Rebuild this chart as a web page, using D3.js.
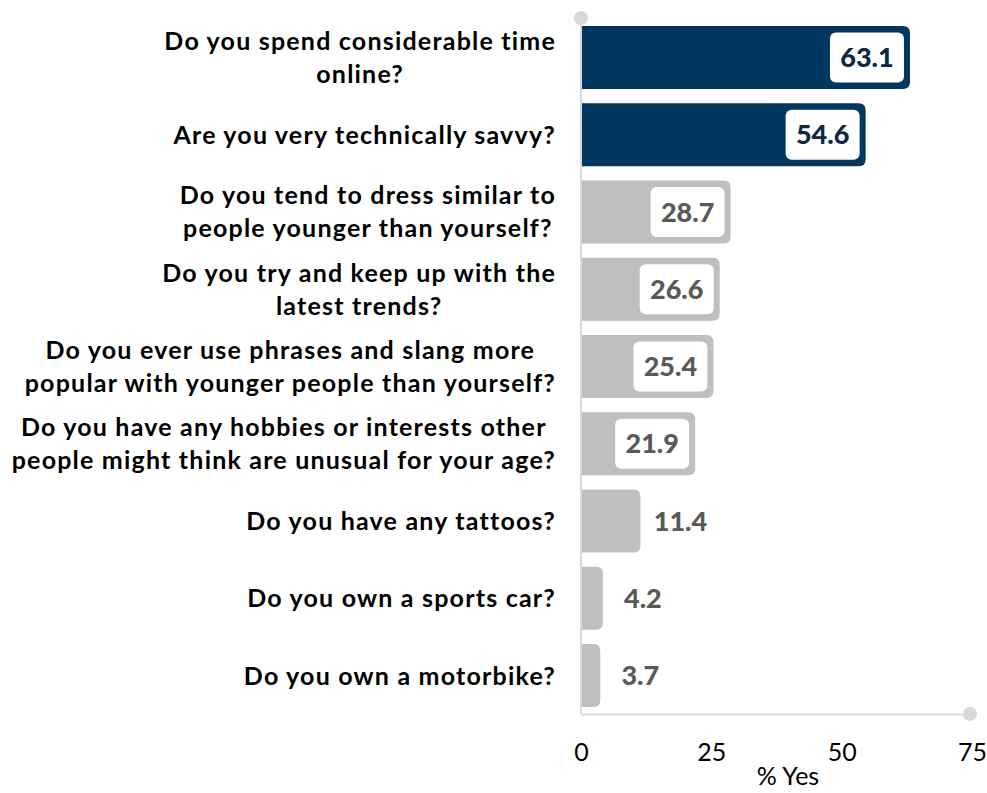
<!DOCTYPE html>
<html>
<head>
<meta charset="utf-8">
<script src="https://cdn.jsdelivr.net/npm/d3@7"></script>
<style>
  html, body { margin: 0; padding: 0; background: #ffffff; }
  svg { display: block; }
</style>
</head>
<body>
<script>
// Survey questions (each entry is the wrapped label lines)
const categories = [
  ["Do you spend considerable time", "online?"],
  ["Are you very technically savvy?"],
  ["Do you tend to dress similar to", "people younger than yourself?"],
  ["Do you try and keep up with the", "latest trends?"],
  ["Do you ever use phrases and slang more", "popular with younger people than yourself?"],
  ["Do you have any hobbies or interests other", "people might think are unusual for your age?"],
  ["Do you have any tattoos?"],
  ["Do you own a sports car?"],
  ["Do you own a motorbike?"]
];
const values = [63.1, 54.6, 28.7, 26.6, 25.4, 21.9, 11.4, 4.2, 3.7];
const highlighted = [true, true, false, false, false, false, false, false, false];
const xTicks = [0, 25, 50, 75];
const xTitle = "% Yes";

const W = 987, H = 793;
const NAVY = "#02375F", GREY = "#BFBFBF", AXIS = "#D9D9D9";
const TEXT_DARK = "#0E2841", TEXT_GREY = "#595959";
const FONT = "Lato, 'Open Sans', sans-serif";

const svg = d3.select("body").append("svg")
  .attr("width", W).attr("height", H);

const keys = categories.map((c, i) => i);
const x = d3.scaleLinear().domain([0, 75]).range([581, 972]);
const y = d3.scaleBand().domain(keys).range([18.8, 714.2])
  .paddingInner(0.185).paddingOuter(0.0925);

// Axes lines with end dots
const axisG = svg.append("g");
axisG.append("line")
  .attr("x1", x(0)).attr("x2", x(0)).attr("y1", 18).attr("y2", 714)
  .attr("stroke", AXIS).attr("stroke-width", 2);
axisG.append("circle").attr("cx", x(0)).attr("cy", 18).attr("r", 7).attr("fill", AXIS);

const xAxis = d3.axisBottom(x).tickValues(xTicks).tickSize(0).tickPadding(29)
  .tickFormat(d3.format("d"));
const xg = svg.append("g").attr("transform", `translate(0,714)`).call(xAxis);
xg.select(".domain").attr("stroke", AXIS).attr("stroke-width", 2);
xg.selectAll("text")
  .attr("font-family", FONT).attr("font-size", 25).attr("fill", "#000");
axisG.append("circle").attr("cx", x(75) - 2).attr("cy", 714).attr("r", 7).attr("fill", AXIS);

svg.append("text")
  .attr("x", 788).attr("y", 785)
  .attr("text-anchor", "middle")
  .attr("font-family", FONT).attr("font-size", 25).attr("fill", "#000")
  .text(xTitle);

// Bars, rounded on the right end
function barPath(x0, x1, y0, h, r) {
  const rr = Math.min(r, (x1 - x0), h / 2);
  return `M${x0},${y0}H${x1 - rr}Q${x1},${y0} ${x1},${y0 + rr}` +
         `V${y0 + h - rr}Q${x1},${y0 + h} ${x1 - rr},${y0 + h}H${x0}Z`;
}

const bars = svg.append("g");
keys.forEach(i => {
  const v = values[i];
  const x0 = x(0) + 1, x1 = x(v);
  const y0 = y(i), h = y.bandwidth();
  bars.append("path")
    .attr("d", barPath(x0, x1, y0, h, 7))
    .attr("fill", highlighted[i] ? NAVY : GREY);

  const cy = y0 + h / 2;
  const label = v.toFixed(1);
  const inside = (x1 - x0) > 90;
  if (inside) {
    const bw = 74, bh = 50;
    const bx = x1 - 6 - bw;
    bars.append("rect")
      .attr("x", bx).attr("y", cy - bh / 2)
      .attr("width", bw).attr("height", bh)
      .attr("rx", 6).attr("fill", "#ffffff");
    bars.append("text")
      .attr("x", bx + bw / 2).attr("y", cy)
      .attr("dy", "0.36em")
      .attr("text-anchor", "middle")
      .attr("font-family", FONT).attr("font-weight", 900).attr("font-size", 27)
      .attr("fill", highlighted[i] ? TEXT_DARK : TEXT_GREY)
      .text(label);
  } else {
    bars.append("text")
      .attr("x", x1 + 40).attr("y", cy)
      .attr("dy", "0.36em")
      .attr("text-anchor", "middle")
      .attr("font-family", FONT).attr("font-weight", 900).attr("font-size", 27)
      .attr("fill", TEXT_GREY)
      .text(label);
  }
});

// Category labels: lines centred on each other, block right-aligned
const labels = svg.append("g");
const lineH = 33;
keys.forEach(i => {
  const lines = categories[i];
  const cy = y(i) + y.bandwidth() / 2;
  const t = labels.append("text")
    .attr("font-family", FONT).attr("font-weight", 700).attr("font-size", 25)
    .attr("letter-spacing", 1.2)
    .attr("fill", "#000").attr("text-anchor", "middle");
  const spans = lines.map((ln, k) => t.append("tspan")
    .attr("y", cy + (k - (lines.length - 1) / 2) * lineH)
    .attr("dy", "0.36em")
    .text(ln));
  const maxW = d3.max(spans, s => s.node().getComputedTextLength());
  spans.forEach(s => s.attr("x", 556 - maxW / 2));
});
</script>
</body>
</html>
